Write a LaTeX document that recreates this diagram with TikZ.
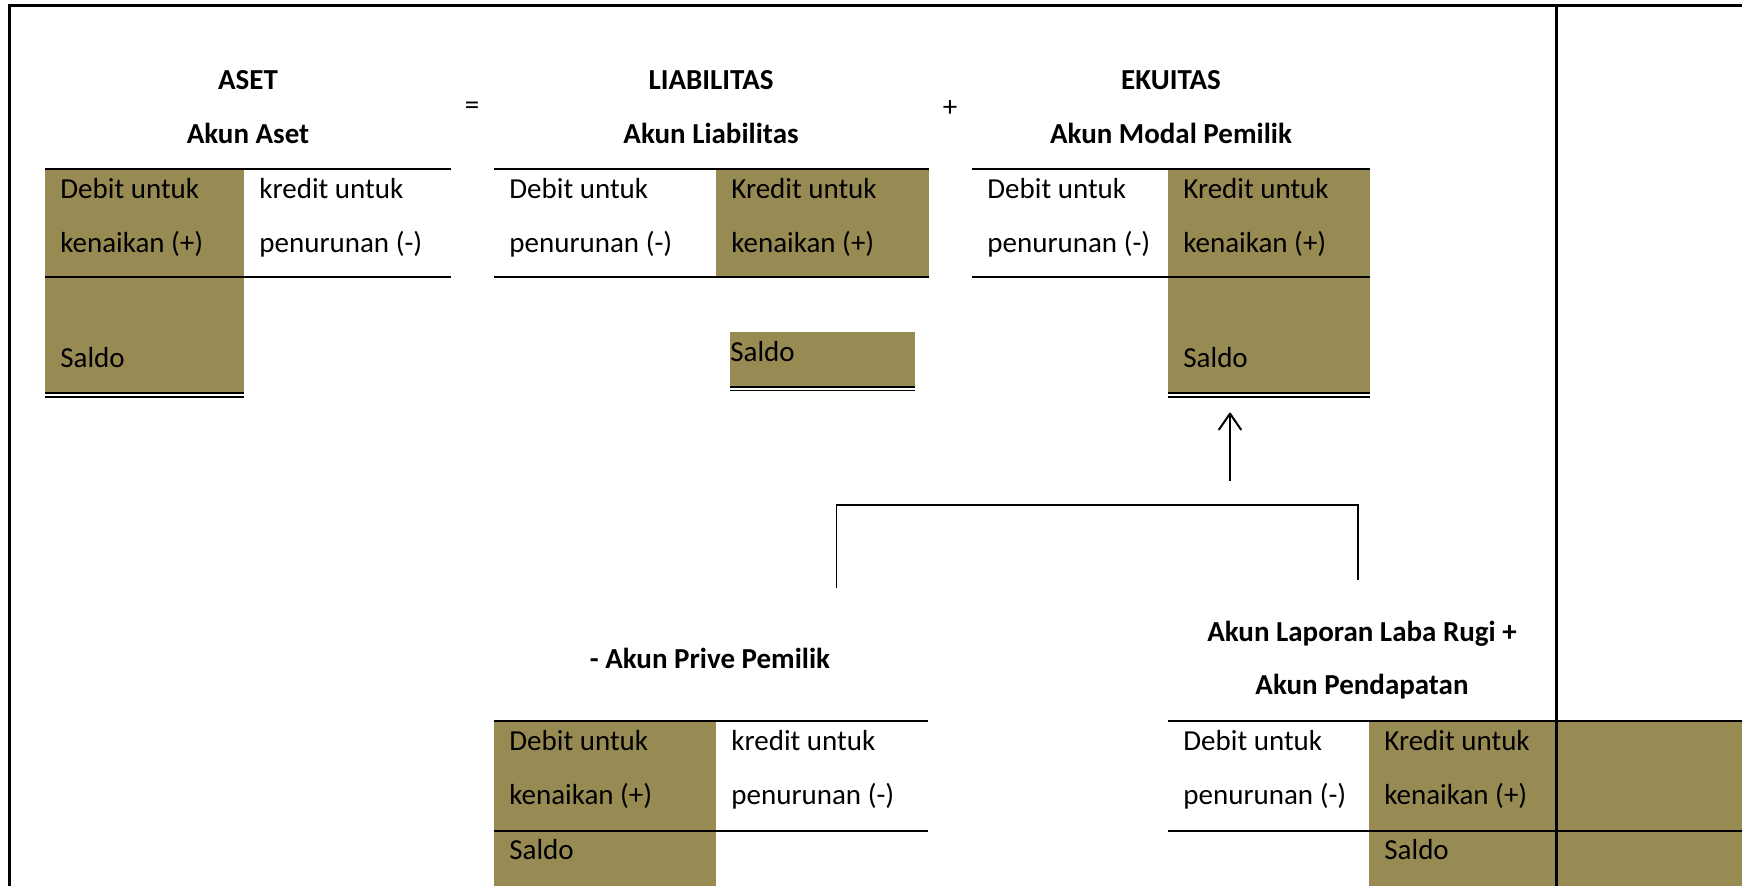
\documentclass[tikz,border=0pt]{standalone}
\usepackage{fontspec}
\setmainfont{Carlito}
\usetikzlibrary{arrows.meta}
\definecolor{zaitun}{RGB}{151,138,83}
\tikzset{
  cell/.style={anchor=base west, inner sep=0pt, yshift=-0.8pt, font=\fontsize{14.5}{17}\selectfont},
  head/.style={anchor=base, inner sep=0pt, yshift=-0.8pt, font=\fontsize{14.5}{17}\selectfont\bfseries},
  sign/.style={inner sep=0pt, yshift=-0.8pt, font=\fontsize{14.5}{17}\selectfont},
  rule/.style={line width=0.8pt},
  dblthick/.style={line width=1pt},
  dblthin/.style={line width=0.7pt},
  frame/.style={line width=1.5pt},
}
\begin{document}
\begin{tikzpicture}[x=0.5pt, y=-0.5pt]
\useasboundingbox (0,0) rectangle (1742,886);
\clip (0,0) rectangle (1742,886);

% persamaan
\node[head] (aset) at (248,88) {ASET};
\node[head] (akun aset) at (248,142) {Akun Aset};
\node[sign] (sama dengan) at (472,107) {=};
\node[head] (liabilitas) at (711,88) {LIABILITAS};
\node[head] (akun liabilitas) at (711,142) {Akun Liabilitas};
\node[sign] (tambah) at (950,107) {+};
\node[head] (ekuitas) at (1171,88) {EKUITAS};
\node[head] (akun modal) at (1171,142) {Akun Modal Pemilik};

% akun aset
\fill[zaitun] (45,169) rectangle (244,393);
\draw[rule] (45,169) -- (451,169);
\draw[rule] (45,277) -- (451,277);
\draw[dblthick] (45,393) -- (244,393);
\draw[dblthin] (45,397) -- (244,397);
\node[cell] (aset debit 1) at (60,197) {Debit untuk};
\node[cell] (aset debit 2) at (60,251) {kenaikan (+)};
\node[cell] (aset kredit 1) at (259,197) {kredit untuk};
\node[cell] (aset kredit 2) at (259,251) {penurunan (-)};
\node[cell] (aset saldo) at (60,366) {Saldo};

% akun liabilitas
\fill[zaitun] (716,169) rectangle (929,277);
\draw[rule] (494,169) -- (929,169);
\draw[rule] (494,277) -- (929,277);
\node[cell] (liab debit 1) at (509,197) {Debit untuk};
\node[cell] (liab debit 2) at (509,251) {penurunan (-)};
\node[cell] (liab kredit 1) at (731,197) {Kredit untuk};
\node[cell] (liab kredit 2) at (731,251) {kenaikan (+)};
\fill[zaitun] (730,332) rectangle (915,386);
\draw[dblthick] (730,387) -- (915,387);
\draw[dblthin] (730,390.5) -- (915,390.5);
\node[cell] (liab saldo) at (730,360) {Saldo};

% akun modal pemilik
\fill[zaitun] (1168,169) rectangle (1370,393);
\draw[rule] (972,169) -- (1370,169);
\draw[rule] (972,277) -- (1370,277);
\draw[dblthick] (1168,393) -- (1370,393);
\draw[dblthin] (1168,397) -- (1370,397);
\node[cell] (modal debit 1) at (987,197) {Debit untuk};
\node[cell] (modal debit 2) at (987,251) {penurunan (-)};
\node[cell] (modal kredit 1) at (1183,197) {Kredit untuk};
\node[cell] (modal kredit 2) at (1183,251) {kenaikan (+)};
\node[cell] (modal saldo) at (1183,366) {Saldo};

% penghubung
\coordinate (modal bawah) at (1230,397);
\coordinate (gabung) at (1230,481);
\coordinate (prive atas) at (836.5,588);
\coordinate (laba atas) at (1358,580);
\draw[line width=1pt, -{Straight Barb[round, length=8pt, width=11pt]}, shorten >=7.8pt] (gabung) -- (modal bawah);
\draw[line width=0.6pt] (prive atas) -- ++(0,-83) -| (laba atas);

% akun prive
\node[head] (prive) at (710,667) {- Akun Prive Pemilik};
\fill[zaitun] (494,721) rectangle (716,886);
\draw[rule] (494,721) -- (928,721);
\draw[rule] (494,831) -- (928,831);
\node[cell] (prive debit 1) at (509,749) {Debit untuk};
\node[cell] (prive debit 2) at (509,803) {kenaikan (+)};
\node[cell] (prive kredit 1) at (731,749) {kredit untuk};
\node[cell] (prive kredit 2) at (731,803) {penurunan (-)};
\node[cell] (prive saldo) at (509,858) {Saldo};

% akun laba rugi dan pendapatan
\node[head] (laba) at (1362,640) {Akun Laporan Laba Rugi +};
\node[head] (pendapatan) at (1362,693) {Akun Pendapatan};
\fill[zaitun] (1369,721) rectangle (1742,886);
\draw[rule] (1168,721) -- (1742,721);
\draw[rule] (1168,831) -- (1742,831);
\node[cell] (laba debit 1) at (1183,749) {Debit untuk};
\node[cell] (laba debit 2) at (1183,803) {penurunan (-)};
\node[cell] (laba kredit 1) at (1384,749) {Kredit untuk};
\node[cell] (laba kredit 2) at (1384,803) {kenaikan (+)};
\node[cell] (laba saldo) at (1384,858) {Saldo};

% bingkai
\draw[frame] (9.5,886) -- (9.5,6) -- (1742,6);
\draw[frame, line width=1.8pt] (1556.5,6) -- (1556.5,886);
\end{tikzpicture}
\end{document}
